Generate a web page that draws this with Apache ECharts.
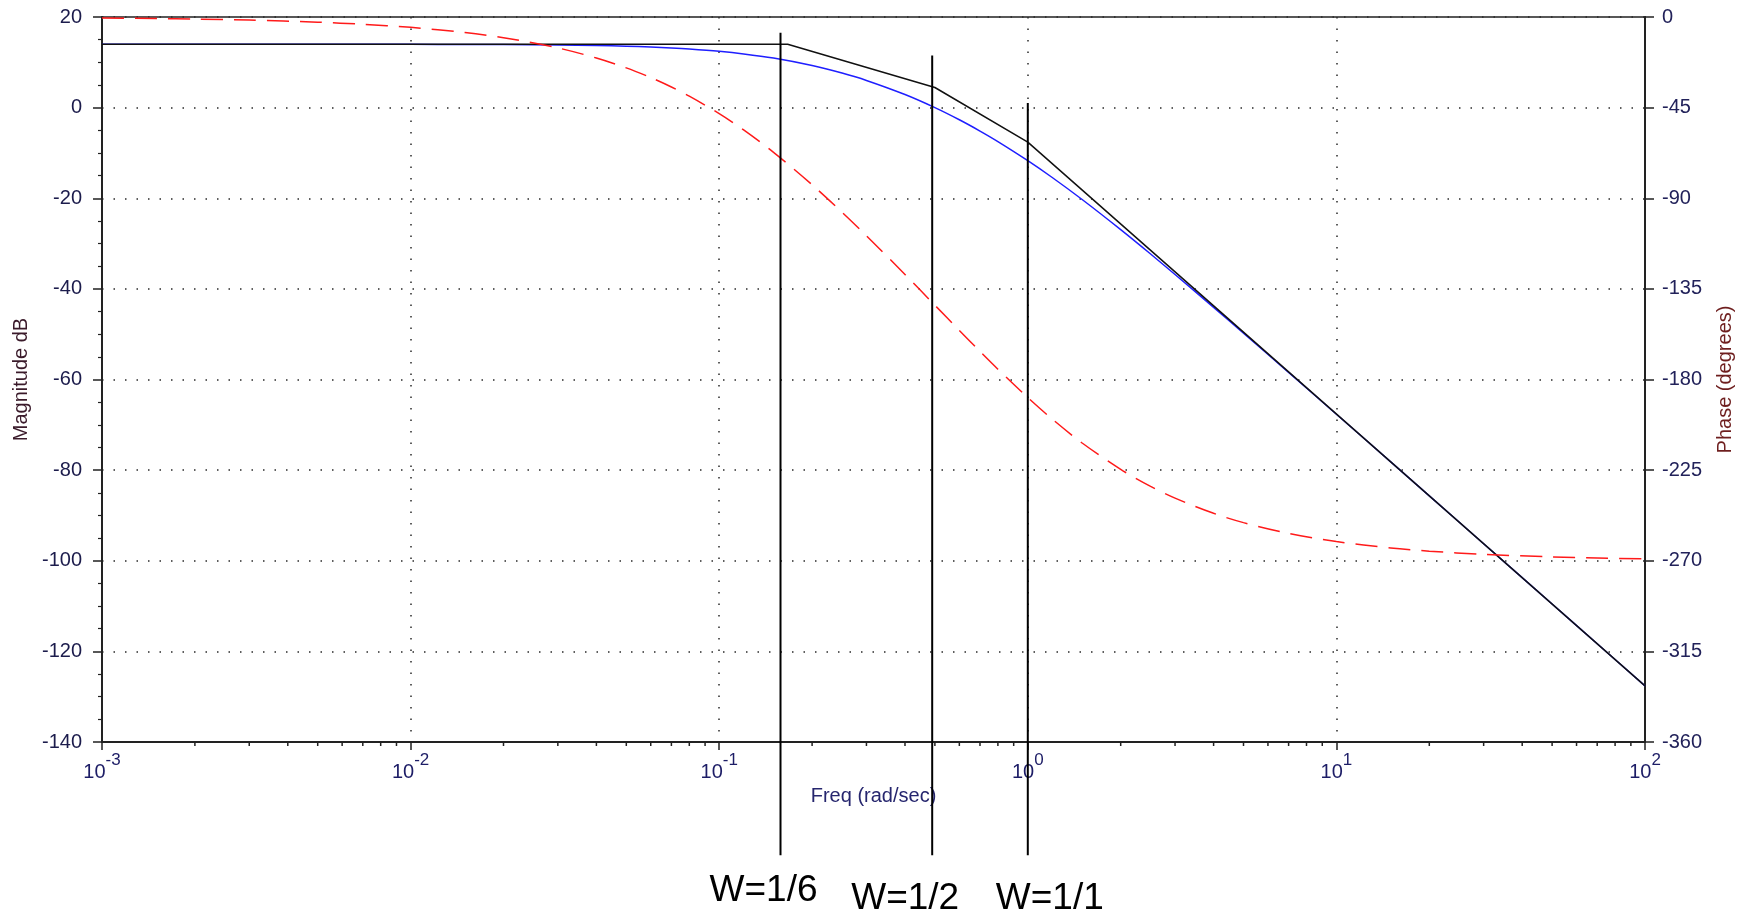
<!DOCTYPE html>
<html><head><meta charset="utf-8">
<script src="https://cdn.jsdelivr.net/npm/echarts@6/dist/echarts.min.js"></script>
<style>html,body{margin:0;padding:0;background:#fff}#c{width:1750px;height:917px}</style>
</head><body><div id="c"></div>
<script>
// ---- data ----
const freq = [0.001,0.0015,0.002,0.003,0.005,0.007,0.01,0.015,0.02,0.03,0.04,0.05,0.06,0.07,0.08,0.1,0.12,0.15,0.2,0.25,0.3,0.4,0.5,0.6,0.7,0.8,1,1.2,1.5,2,2.5,3,4,5,7,10,15,20,30,50,70,100];
const magnitude = [13.98,13.98,13.98,13.98,13.98,13.97,13.96,13.94,13.91,13.82,13.70,13.55,13.37,13.17,12.94,12.43,11.86,10.93,9.29,7.63,6.00,2.89,0.00,-2.68,-5.17,-7.49,-11.70,-15.42,-20.28,-26.93,-32.31,-36.82,-44.07,-49.76,-58.42,-67.66,-78.19,-85.68,-96.24,-109.54,-118.31,-127.60];
const phase = [-0.52,-0.77,-1.03,-1.55,-2.58,-3.61,-5.15,-7.72,-10.28,-15.36,-20.36,-25.27,-30.08,-34.75,-39.30,-47.98,-56.09,-67.22,-83.30,-96.92,-108.61,-127.84,-143.13,-155.63,-166.06,-174.88,-188.97,-199.66,-211.54,-224.63,-233.08,-238.93,-246.44,-251.07,-256.42,-260.48,-263.64,-265.23,-266.82,-268.09,-268.63,-269.04];
const asymptoteFreq = [0.001, 0.1667, 0.5, 1, 100];
const asymptoteMag = [13.98, 13.98, 4.44, -7.60, -127.60];
const markerFreq = [0.158, 0.49, 1.0];
const markerTop = [16.5, 11.5, 1.0];
const markerBottom = [-165, -165, -165];
const markerLabels = ['W=1/6', 'W=1/2', 'W=1/1'];
const xTickExponents = ['-3', '-2', '-1', '0', '1', '2'];
const minorMultipliers = [2, 3, 4, 5, 6, 7, 8, 9];
const decadeStarts = [0.001, 0.01, 0.1, 1, 10];

// ---- layout / style (not data) ----
const FONT = '"Liberation Sans", Arial, sans-serif';
const labelOffsets = [[-17, 36], [-27, 44], [22, 44]];

const blueData = freq.map((f, i) => [f, magnitude[i]]);
const redData = freq.map((f, i) => [f, phase[i]]);
const blackData = asymptoteFreq.map((f, i) => [f, asymptoteMag[i]]);
const markerData = markerFreq.map((f, i) => [f, markerTop[i], markerBottom[i], i]);
const minorData = [];
decadeStarts.forEach(d => minorMultipliers.forEach(m => minorData.push([d * m, -140])));

const dotted = { color: '#2a2a2a', width: 1.5, type: [1.5, 10] };

const chart = echarts.init(document.getElementById('c'), null, { renderer: 'canvas' });
chart.setOption({
  backgroundColor: '#ffffff',
  animation: false,
  textStyle: { fontFamily: FONT },
  grid: { left: 102, right: 105, top: 17, bottom: 175, show: true, borderColor: '#222', borderWidth: 1.5, containLabel: false, outerBoundsMode: 'none' },
  xAxis: {
    type: 'log', logBase: 10, min: 0.001, max: 100,
    name: 'Freq (rad/sec)', nameLocation: 'middle', nameGap: 43,
    nameTextStyle: { color: '#26266e', fontSize: 20, fontFamily: FONT },
    axisLine: { show: true, onZero: false, lineStyle: { color: '#222', width: 2 } },
    axisTick: { show: true, length: 8, lineStyle: { color: '#222', width: 1.5 } },
    splitLine: { show: true, lineStyle: dotted },
    axisLabel: {
      show: true, margin: 10, showMinLabel: true, showMaxLabel: true,
      formatter: v => '{b|10}{s|' + xTickExponents[Math.round(Math.log10(v)) + 3] + '}',
      rich: {
        b: { fontSize: 20, color: '#1d1d66', fontFamily: FONT, verticalAlign: 'bottom' },
        s: { fontSize: 17, color: '#1d1d66', fontFamily: FONT, verticalAlign: 'top', padding: [0, 0, 13, 0] }
      }
    }
  },
  yAxis: [
    {
      type: 'value', min: -140, max: 20, interval: 20, position: 'left',
      name: 'Magnitude dB', nameLocation: 'middle', nameGap: 70, nameRotate: 90,
      nameTextStyle: { color: '#3a1a2a', fontSize: 20, fontFamily: FONT },
      axisLine: { show: true, onZero: false, lineStyle: { color: '#222', width: 2 } },
      axisTick: { show: true, length: 9, lineStyle: { color: '#222', width: 1.5 } },
      minorTick: { show: true, splitNumber: 4, length: 4, lineStyle: { color: '#222', width: 1.2 } },
      splitLine: { show: true, lineStyle: dotted },
      axisLabel: { margin: 20, fontSize: 20, color: '#1c1c4c', fontFamily: FONT }
    },
    {
      type: 'value', min: -360, max: 0, interval: 45, position: 'right',
      name: 'Phase (degrees)', nameLocation: 'middle', nameGap: 70, nameRotate: 90,
      nameTextStyle: { color: '#6e1e1e', fontSize: 20, fontFamily: FONT },
      axisLine: { show: true, onZero: false, lineStyle: { color: '#222', width: 2 } },
      axisTick: { show: true, length: 9, lineStyle: { color: '#222', width: 1.5 } },
      splitLine: { show: false },
      axisLabel: { margin: 17, fontSize: 20, color: '#22225a', fontFamily: FONT }
    }
  ],
  series: [
    {
      name: 'Magnitude', type: 'line', data: blueData, xAxisIndex: 0, yAxisIndex: 0,
      showSymbol: false, smooth: 0.3, lineStyle: { color: '#1f1fff', width: 1.5 }, z: 3, silent: true
    },
    {
      name: 'Asymptote', type: 'line', data: blackData, xAxisIndex: 0, yAxisIndex: 0,
      showSymbol: false, smooth: false, lineStyle: { color: '#111', width: 1.5 }, z: 4, silent: true
    },
    {
      name: 'Phase', type: 'line', data: redData, xAxisIndex: 0, yAxisIndex: 1,
      showSymbol: false, smooth: 0.3, lineStyle: { color: '#ff1a1a', width: 1.5, type: [22, 11] }, z: 5, silent: true
    },
    {
      name: 'MinorTicks', type: 'custom', data: minorData, xAxisIndex: 0, yAxisIndex: 0, clip: false, silent: true, z: 6,
      encode: { x: 0, y: 1 },
      renderItem: (params, api) => {
        const p = api.coord([api.value(0), api.value(1)]);
        return { type: 'line', shape: { x1: p[0], y1: p[1], x2: p[0], y2: p[1] + 4 }, style: { stroke: '#222', lineWidth: 1.5 } };
      }
    },
    {
      name: 'Markers', type: 'custom', data: markerData, xAxisIndex: 0, yAxisIndex: 0, clip: false, silent: true, z: 7,
      encode: { x: 0, y: 1 },
      renderItem: (params, api) => {
        const f = api.value(0);
        const top = api.coord([f, api.value(1)]);
        const bot = api.coord([f, api.value(2)]);
        const idx = api.value(3);
        const off = labelOffsets[idx];
        return {
          type: 'group',
          children: [
            { type: 'line', shape: { x1: top[0], y1: top[1], x2: bot[0], y2: bot[1] }, style: { stroke: '#000', lineWidth: 2 } },
            { type: 'text', style: { text: markerLabels[idx], x: bot[0] + off[0], y: bot[1] + off[1], fill: '#000', font: '37px ' + FONT, align: 'center', verticalAlign: 'middle' } }
          ]
        };
      }
    }
  ]
});
</script>
</body></html>
